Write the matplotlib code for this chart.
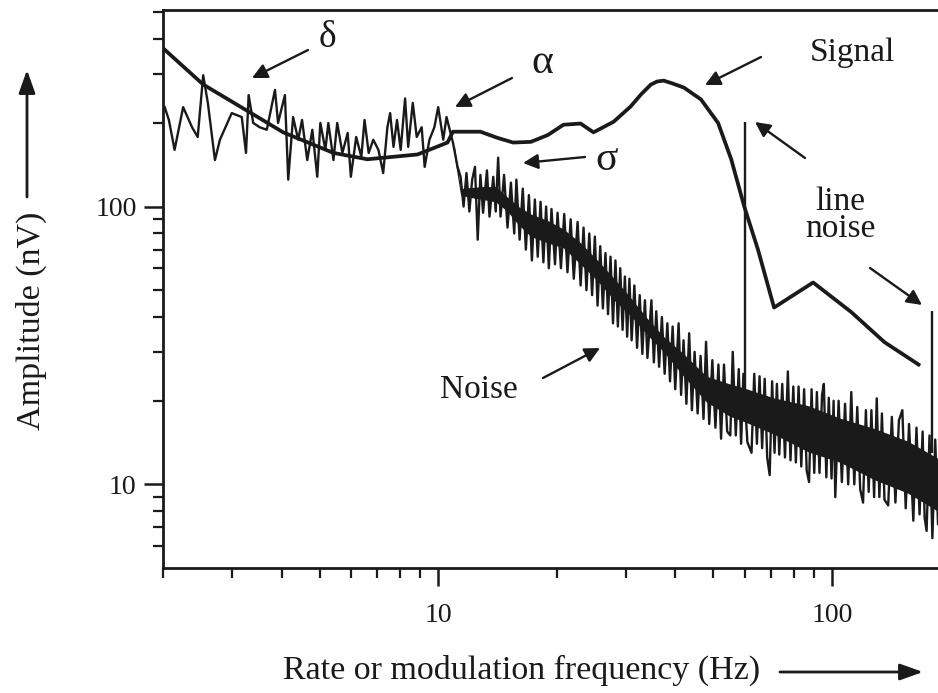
import numpy as np
import matplotlib
matplotlib.use("Agg")
import matplotlib.pyplot as plt
from matplotlib.ticker import NullFormatter

# ---------------- data ----------------
signal_freq = [2.02, 2.53, 3.33, 4.04, 5.42, 6.61, 8.86, 10.56, 10.9, 12.8, 14.1, 15.5,
               17.2, 19.0, 20.8, 23.0, 24.8, 27.9, 30.8, 32.8, 34.7, 36.0, 37.4, 39.5,
               42.1, 46.5, 51.4, 55.5, 59.9, 64.9, 71.3, 89.6, 112, 136, 166]
signal_amp = [367, 275, 218, 185, 156, 148, 154, 170, 186, 186, 177, 170,
              171, 181, 197, 199, 185, 202, 229, 254, 275, 282, 284, 277,
              268, 243, 200, 148, 100, 70, 43.3, 53.3, 41.7, 32.5, 27.0]

noise_lf_freq = [2.02, 2.07, 2.14, 2.25, 2.37, 2.45, 2.53, 2.60, 2.71, 2.79, 2.99, 3.17,
                 3.25, 3.30, 3.39, 3.52, 3.67, 3.85, 3.92, 4.08, 4.16, 4.28, 4.41, 4.51,
                 4.65, 4.79, 4.93, 5.02, 5.17, 5.26, 5.42, 5.54, 5.71, 5.89, 6.00, 6.19,
                 6.38, 6.50, 6.66, 6.84, 7.05, 7.25, 7.43, 7.55, 7.70, 7.86, 8.03, 8.24,
                 8.39, 8.62, 8.82, 9.08, 9.24, 9.50, 9.78, 10.0, 10.3, 10.5, 10.9, 11.2]
noise_lf_amp = [228, 205, 160, 228, 193, 178, 297, 236, 147, 174, 217, 210,
                156, 252, 200, 193, 189, 263, 200, 252, 125, 210, 174, 205,
                147, 189, 128, 200, 160, 200, 147, 200, 156, 184, 128, 178,
                151, 205, 156, 174, 160, 132, 193, 217, 164, 205, 160, 245,
                164, 236, 178, 193, 139, 174, 193, 228, 174, 210, 170, 139]

noise_hf_freq = [11.4, 11.6, 11.8, 12.0, 12.2, 12.4, 12.6, 12.8, 13.0, 13.3, 13.5, 13.8,
                 14.0, 14.2, 14.4, 14.7, 15.0, 15.3, 15.6, 15.8, 16.1, 16.4, 16.7, 17.0,
                 17.3, 17.6, 17.9, 18.2, 18.5, 18.8, 19.1, 19.4, 19.8, 20.1, 20.5, 20.9,
                 21.3, 21.7, 22.1, 22.6, 23.0, 23.4, 23.8, 24.2, 24.6, 25.0, 25.4, 25.8,
                 26.2, 26.6, 27.0, 27.4, 27.8, 28.2, 28.6, 29.0, 29.4, 29.8, 30.2, 30.6,
                 31.0, 31.5, 32.0, 32.5, 33.0, 33.5, 34.0, 34.8, 35.3, 35.8, 36.4, 37.0,
                 37.6, 38.2, 38.8, 39.4, 40.0, 40.8, 41.4, 42.0, 42.7, 43.4, 44.1, 44.8,
                 45.6, 46.4, 47.2, 47.9, 48.8, 49.7, 50.6, 51.5, 52.3, 53.2, 54.2, 55.2,
                 56.0, 57.0, 58.0, 58.8, 59.6, 61.0, 62.5, 63.5, 64.5, 65.5, 66.5, 67.5,
                 68.5, 69.5, 70.5, 71.5, 72.5, 73.5, 74.8, 76.0, 77.3, 78.5, 79.8, 81.0,
                 82.3, 83.6, 85.0, 86.3, 87.5, 88.8, 90.2, 91.6, 93.0, 94.4, 95.4, 96.8,
                 98.2, 99.8, 101, 102, 104, 106, 108, 110, 112, 114, 116, 118,
                 120, 122, 124, 126, 128, 130, 132, 134, 136, 139, 142, 145,
                 148, 151, 154, 157, 161, 164, 167, 170, 172, 174, 177, 180,
                 183, 186]
noise_hf_amp = [128, 100, 132, 96, 125, 139, 76, 130, 95, 135, 92, 128,
                96, 150, 92, 130, 84, 122, 80, 125, 76, 116, 70, 110,
                64, 106, 66, 104, 63, 100, 60, 98, 62, 95, 60, 94,
                58, 90, 55, 88, 52, 84, 50, 80, 48, 78, 44, 72,
                43, 68, 41, 66, 38, 64, 37, 60, 36, 56, 34, 55,
                33, 52, 31, 48, 29.5, 46, 28.5, 46, 27.5, 42, 26.5, 40,
                25, 38, 23.5, 37, 22, 38, 21, 33, 19.5, 35, 18.5, 30,
                18, 29, 17.2, 32.6, 16.5, 28, 16, 27, 14.6, 27, 15.5, 15,
                30, 15, 26, 14.0, 25, 14.2, 13.0, 25, 14, 24.5, 13.5, 24,
                12.5, 10.8, 23.5, 13, 23, 12.8, 23, 12.5, 25.5, 12.2, 22.5, 12,
                22.5, 11.6, 22, 11.2, 10.2, 22, 11, 21.5, 11, 21, 23, 10.6,
                20.5, 10.5, 20, 9.0, 20, 10.2, 19.5, 10, 21.5, 10, 19, 9.6,
                8.6, 18.5, 9.4, 18.5, 9.0, 20.4, 9, 18, 8.8, 8.4, 17.5, 8.6,
                17, 18.5, 8.2, 16.5, 7.4, 16, 7.8, 15.5, 7.6, 6.8, 15, 6.4,
                14.5, 7.2]

band_freq = [11.0, 11.4, 12, 13, 14, 15, 16, 17.2, 19, 20.8, 23, 25.4, 28,
             30.8, 34, 37.4, 42, 48, 55, 60, 71, 87, 105, 128, 156, 186]
band_lo = [150, 110, 108, 106, 104, 96, 86, 78, 74, 71, 62, 54, 46,
           40.5, 34.5, 30, 24.5, 19.8, 17.6, 16.8, 15.2, 13.1, 12.0, 10.4, 9.3, 8.0]
band_hi = [165, 116, 117, 118, 118, 108, 100, 94, 89, 83, 74, 64, 55,
           47, 39.5, 34, 29.5, 24.5, 23, 22.2, 20.5, 19.2, 17.3, 15.9, 14.3, 12.4]

line_noise_freq = [60, 180]
line_noise_top = [202, 42]
line_noise_base = [22, 13]

x_major = [10, 100]
x_major_labels = ["10", "100"]
x_minor = [2, 3, 4, 5, 6, 7, 8, 9, 20, 30, 40, 50, 60, 70, 80, 90]
y_major = [10, 100]
y_major_labels = ["10", "100"]
y_minor = [6, 7, 8, 9, 20, 30, 40, 50, 60, 70, 80, 90, 200, 300, 400, 500]

# ---------------- figure ----------------
W, H = 938, 693
ink = "#1a1a1a"
serif = ["Liberation Serif", "DejaVu Serif"]
plt.rcParams["font.family"] = serif

fig = plt.figure(figsize=(W / 100, H / 100), dpi=100)
fig.patch.set_facecolor("white")
ax = fig.add_axes([163 / W, (H - 568) / H, (W - 163) / W, (568 - 10) / H])
ax.set_xscale("log")
ax.set_yscale("log")
ax.set_xlim(2, 186)
ax.set_ylim(5, 510)

# noise
ax.fill_between(band_freq, band_lo, band_hi, color=ink, lw=0, zorder=2)
noise_freq = noise_lf_freq + noise_hf_freq
noise_amp = noise_lf_amp + noise_hf_amp
ax.plot(noise_freq, noise_amp, color=ink, lw=1.7, zorder=3)
# line noise
ax.vlines(line_noise_freq, line_noise_base, line_noise_top, color=ink, lw=1.7, zorder=3)
# signal
ax.plot(signal_freq, signal_amp, color=ink, lw=2.7, zorder=4, solid_joinstyle="round")

# axes styling
for s in ["left", "bottom", "top"]:
    ax.spines[s].set_linewidth(2.0)
    ax.spines[s].set_color(ink)
ax.spines["right"].set_visible(False)
ax.set_xticks(x_major)
ax.set_xticklabels(x_major_labels)
ax.set_xticks(x_minor, minor=True)
ax.set_yticks(y_major)
ax.set_yticklabels(y_major_labels)
ax.set_yticks(y_minor, minor=True)
ax.xaxis.set_minor_formatter(NullFormatter())
ax.yaxis.set_minor_formatter(NullFormatter())
ax.tick_params(axis="x", which="major", direction="out", length=13, width=1.8,
               pad=12, labelsize=20, colors=ink)
ax.tick_params(axis="x", which="minor", direction="out", length=7, width=1.6, colors=ink)
ax.tick_params(axis="y", which="major", direction="out", length=14, width=1.8,
               pad=5, labelsize=20, colors=ink)
ax.tick_params(axis="y", which="minor", direction="out", length=7, width=1.6, colors=ink)
ax.tick_params(top=False, right=False, which="both")


def fp(x, y):
    return (x, H - y)


def arrow(tail, head, lw=1.7, hw=0.45, hl=0.9):
    ax.annotate("", xy=fp(*head), xytext=fp(*tail), xycoords="figure pixels",
                textcoords="figure pixels",
                arrowprops=dict(arrowstyle=f"-|>,head_width={hw},head_length={hl}",
                                color=ink, lw=lw, shrinkA=0, shrinkB=0),
                annotation_clip=False)


def label(x, y, s, size, **kw):
    fig.text(x / W, 1 - y / H, s, fontsize=size, color=ink, ha="center", va="center", **kw)


# annotations
label(327, 38, "δ", 27)
arrow((308, 50), (252, 78))
label(542, 63, "α", 30)
arrow((512, 78), (455, 107))
label(607, 160, "σ", 30)
arrow((585, 157), (523, 163))
label(852, 53, "Signal", 24)
arrow((761, 57), (705, 85))
label(840, 215, "line\nnoise", 24, linespacing=0.85)
arrow((805, 158), (755, 122))
arrow((870, 268), (922, 305))
label(479, 390, "Noise", 24)
arrow((543, 378), (600, 348))

# axis labels with arrows
label(31, 321, "Amplitude (nV)", 24.5, rotation=90)
arrow((27, 197), (27, 70), lw=2.0, hw=0.5, hl=1.4)
fig.text(760 / W, 1 - 670 / H, "Rate or modulation frequency (Hz)", fontsize=24.5,
         color=ink, ha="right", va="center")
arrow((780, 672), (923, 672), lw=2.0, hw=0.5, hl=1.4)

fig.savefig("out.png", dpi=100, facecolor="white")
